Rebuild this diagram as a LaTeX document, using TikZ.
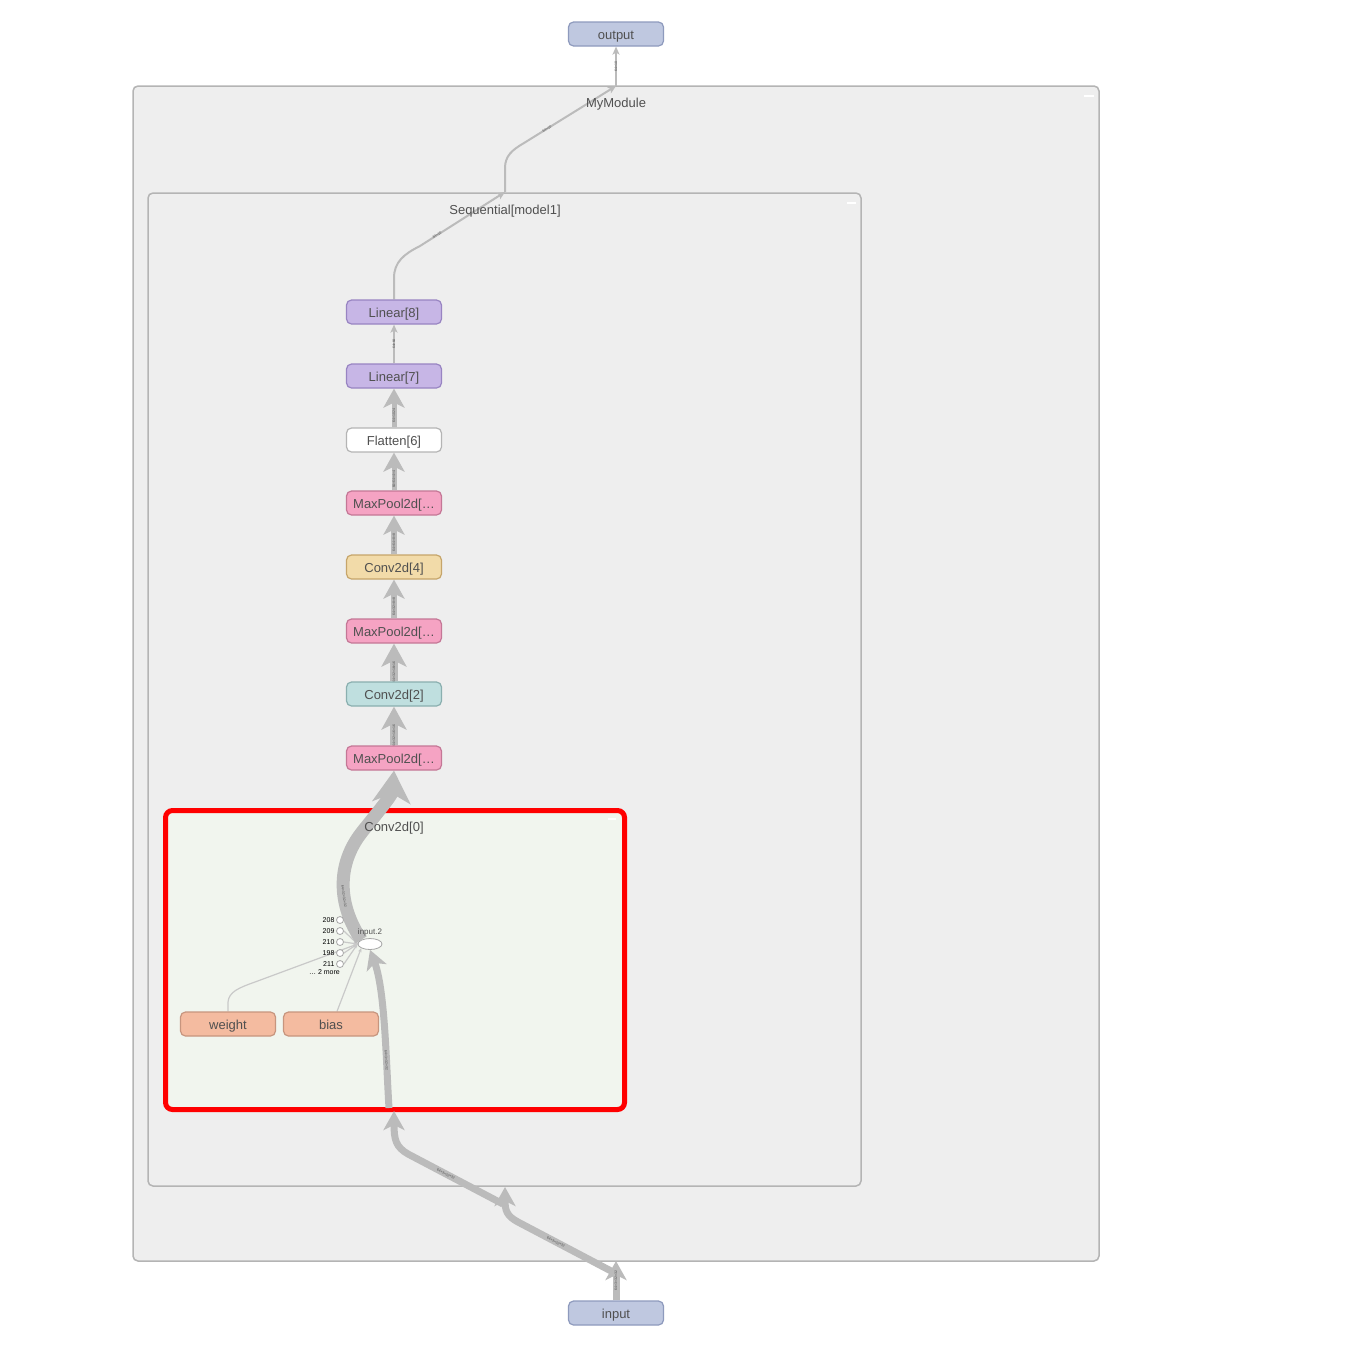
\documentclass[tikz,border=0pt]{standalone}
\usepackage{fontspec}
\setmainfont{Liberation Sans}
\usetikzlibrary{arrows.meta,positioning,shapes.geometric}
\definecolor{txtgray}{HTML}{505050}
\definecolor{edgegray}{HTML}{BBBBBB}
\definecolor{groupfill}{HTML}{EEEEEE}
\definecolor{groupline}{HTML}{B4B4B4}
\definecolor{convfill}{HTML}{F1F5EE}
\definecolor{ioFill}{HTML}{BFC8E0}
\definecolor{ioLine}{HTML}{8E9ABD}
\definecolor{linFill}{HTML}{C7B6E6}
\definecolor{linLine}{HTML}{9884C2}
\definecolor{poolFill}{HTML}{F5A3C3}
\definecolor{poolLine}{HTML}{C47796}
\definecolor{convAFill}{HTML}{F2DBA9}
\definecolor{convALine}{HTML}{C6A56A}
\definecolor{convBFill}{HTML}{BFDFDF}
\definecolor{convBLine}{HTML}{8AAFAF}
\definecolor{paramFill}{HTML}{F4BBA0}
\definecolor{paramLine}{HTML}{C7957E}
\pgfdeclarelayer{back}
\pgfsetlayers{back,main}
\begin{document}
\begin{tikzpicture}[x=1pt,y=-1pt,
  layer/.style={draw,rounded corners=5pt,minimum width=95pt,minimum height=24pt,line width=1.2pt,text=txtgray,font=\fontsize{13}{13}\selectfont,inner sep=0pt,text height=12pt,text depth=2pt},
  iobox/.style={layer,fill=ioFill,draw=ioLine},
  linbox/.style={layer,fill=linFill,draw=linLine},
  flatbox/.style={layer,fill=white,draw=groupline},
  poolbox/.style={layer,fill=poolFill,draw=poolLine},
  convAbox/.style={layer,fill=convAFill,draw=convALine},
  convBbox/.style={layer,fill=convBFill,draw=convBLine},
  parambox/.style={layer,fill=paramFill,draw=paramLine},
  group/.style={fill=groupfill,draw=groupline,line width=1.5pt,rounded corners=5pt},
  convgroup/.style={fill=convfill,draw=red,line width=5pt,rounded corners=7pt},
  grouplab/.style={text=txtgray,font=\fontsize{13}{13}\selectfont,inner sep=0pt,text height=12pt,text depth=2pt},
  expandmark/.style={draw=white,line width=1.5pt},
  opnode/.style={ellipse,draw=gray!70,fill=white,line width=.8pt,minimum width=24pt,minimum height=11pt,inner sep=0pt},
  port/.style={circle,draw=gray!70,fill=white,line width=.8pt,minimum size=7pt,inner sep=0pt},
  portlab/.style={font=\fontsize{7}{7}\selectfont,inner sep=0pt},
  edge/.style={draw=edgegray},
  thinedge/.style={draw=edgegray!80,line width=1.2pt,-{Stealth[length=4pt,width=3.5pt]}},
  elab/.style={font=\fontsize{3.5}{3.5}\selectfont,text=txtgray,inner sep=0pt,sloped},
  tipS/.style={-{Stealth[length=8pt,width=7pt,inset=2pt]}},
  tipM/.style={-{Stealth[length=19pt,width=21pt,inset=5pt]}},
  tipL/.style={-{Stealth[length=23pt,width=25pt,inset=6pt]}},
  tipXL/.style={-{Stealth[length=32pt,width=38pt,inset=9pt]}}]

\useasboundingbox (0,0) rectangle (1357,1353);

% groups
\begin{pgfonlayer}{back}
\fill [white] (0,0) rectangle (1357,1353);
\draw [group] (133,86) rectangle (1099,1261);
\draw [expandmark] (1084,96) -- (1094,96);
\draw [group] (148,193) rectangle (861,1186);
\draw [expandmark] (847,203) -- (856,203);
\draw [convgroup] (165.5,810.5) rectangle (624.5,1109.5);
\draw [expandmark] (608,819) -- (616,819);
\end{pgfonlayer}
\node [grouplab] (mymod) at (616,102) {MyModule};
\node [grouplab] (seq) at (505,209) {Sequential[model1]};
\node [grouplab] (conv0) at (394,826) {Conv2d[0]};

% layers
\node [iobox] (output) at (616,34) {output};
\node [iobox] (input) at (616,1313) {input};
\node [linbox] (lin8) at (394,312) {Linear[8]};
\node [linbox] (lin7) at (394,376) {Linear[7]};
\node [flatbox] (flat6) at (394,440) {Flatten[6]};
\node [poolbox] (pool5) at (394,503) {MaxPool2d[…};
\node [convAbox] (conv4) at (394,567) {Conv2d[4]};
\node [poolbox] (pool3) at (394,631) {MaxPool2d[…};
\node [convBbox] (conv2) at (394,694) {Conv2d[2]};
\node [poolbox] (pool1) at (394,758) {MaxPool2d[…};
\node [parambox] (weight) at (228,1024) {weight};
\node [parambox] (bias) at (331,1024) {bias};
\node [opnode,label={[portlab,text=txtgray,font=\fontsize{8}{8}\selectfont,yshift=1.5pt]above:input.2}] (op) at (370,944) {};

% ports of input.2
\foreach \lab [count=\i] in {208,209,210,198,211} {
  \node [port] (p\i) at (340,909+11*\i) {};
  \node [portlab,left=1.5pt of p\i] {\lab};
  \begin{pgfonlayer}{back}
  \draw [thinedge] (p\i.east) -- (op.west);
  \end{pgfonlayer}
}
\node [portlab,anchor=east] (more) at (340,972) {… 2 more};

% bridge points
\coordinate (modtop) at (616,86);
\coordinate (seqtop) at (505,192);
\coordinate (modbot) at (616,1261);
\coordinate (seqbot) at (505,1187);
\coordinate (convbot) at (394,1111);

\begin{pgfonlayer}{back}
% into input.2
\draw [edge,line width=7pt,tipM] (input) -- node[elab]{64×3×32×32} (modbot);
\draw [edge,line width=7pt,tipM] (613,1272) -- node[elab,pos=.6]{64×3×32×32} (518,1222)
  .. controls (507,1216) and (505,1211) .. (seqbot);
\draw [edge,line width=7pt,tipM] (503,1204) -- node[elab,pos=.6]{64×3×32×32} (408,1154)
  .. controls (396,1147) and (394,1140) .. (convbot);
\draw [edge,line width=7pt,tipM] (389,1108) .. controls (386,1060) and (385,990) .. node[elab,pos=.3]{64×3×32×32} (op.south);
\draw [thinedge] (weight.north) -- (228,1002) .. controls (229,992) and (238,988) .. (255,982) -- (op.west);
\draw [thinedge] ([xshift=6pt]bias.north) -- (op.south west);
% main chain
\draw [edge,line width=13pt,tipXL] (op.north west) .. controls (338,905) and (336,865) .. node[elab,pos=.4]{64×32×32×32} (362,832)
  .. controls (378,812) and (392,795) .. (pool1.south);
\draw [edge,line width=8pt,tipL] (pool1) -- node[elab,pos=.25]{64×32×16×16} (conv2);
\draw [edge,line width=8pt,tipL] (conv2) -- node[elab,pos=.25]{64×32×16×16} (pool3);
\draw [edge,line width=6pt,tipM] (pool3) -- node[elab,pos=.3]{64×32×8×8} (conv4);
\draw [edge,line width=6pt,tipM] (conv4) -- node[elab,pos=.3]{64×64×8×8} (pool5);
\draw [edge,line width=5pt,tipM] (pool5) -- node[elab,pos=.3]{64×64×4×4} (flat6);
\draw [edge,line width=5pt,tipM] (flat6) -- node[elab,pos=.3]{64×1024} (lin7);
\draw [edge,line width=2pt,tipS] (lin7) -- node[elab]{64×64} (lin8);
% out of the groups
\draw [edge,line width=2pt,tipS] (lin8.north) -- (394,278) .. controls (394,262) and (404,254) .. (420,246)
  -- node[elab,pos=.2]{64×10} (seqtop);
\draw [edge,line width=2pt,tipS] (seqtop) -- (505,168) .. controls (505,156) and (512,150) .. (524,143)
  -- node[elab,pos=.25]{64×10} (modtop);
\draw [edge,line width=2pt,tipS] (modtop) -- node[elab]{64×10} (output);
\end{pgfonlayer}
\end{tikzpicture}
\end{document}
